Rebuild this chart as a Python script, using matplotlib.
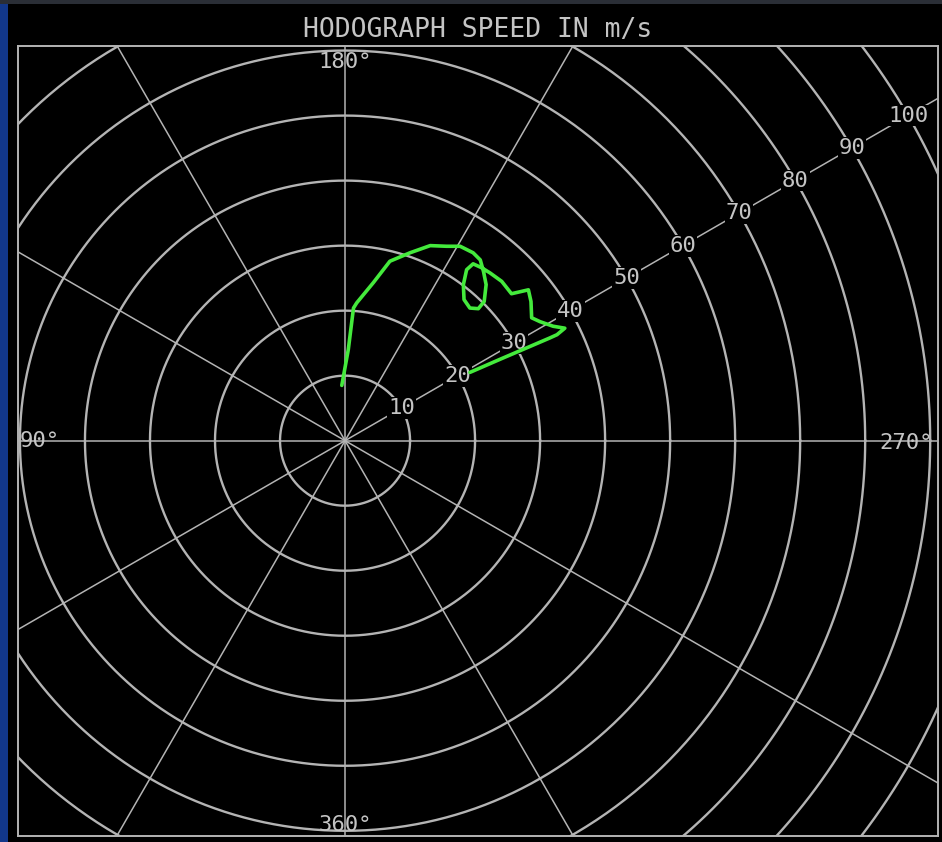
import numpy as np
import matplotlib
matplotlib.use("Agg")
import matplotlib.pyplot as plt
from matplotlib.patches import Rectangle

# ---- data ----
title = "HODOGRAPH SPEED IN m/s"
ring_speeds = [10, 20, 30, 40, 50, 60, 70, 80, 90, 100]
speed_labels = ["10", "20", "30", "40", "50", "60", "70", "80", "90", "100"]
spoke_dirs = [0, 30, 60, 90, 120, 150, 180, 210, 240, 270, 300, 330]
label_ray_dir = 240
dir_labels = ["180°", "90°", "270°", "360°"]
dir_label_pos = [(0, 58.3), (-46.9, 0), (86.3, -0.3), (0, -59.1)]

# hodograph wind components (m/s): u (east), v (north)
hodo_u = [-0.5, 0.5, 1.3, 1.8, 4.35, 6.9, 10.0, 13.1, 15.6, 17.7, 19.7, 20.8,
          21.3, 21.7, 21.4, 20.5, 19.2, 18.3, 18.2, 18.7, 19.7, 21.0, 22.3,
          24.1, 25.6, 26.9, 28.2, 28.6, 28.7, 30.0, 32.0, 33.8, 32.6, 31.5,
          28.0, 23.8, 19.2]
hodo_v = [8.5, 14.0, 20.4, 21.2, 24.3, 27.6, 28.9, 30.0, 29.9, 29.9, 28.9, 27.8,
          26.0, 24.0, 21.4, 20.3, 20.4, 21.7, 24.0, 26.3, 27.2, 26.6, 25.8,
          24.5, 22.6, 22.9, 23.2, 21.4, 18.9, 18.3, 17.6, 17.3, 16.3, 15.8,
          14.3, 12.5, 10.5]

GRID = "#b4b4b4"
TEXT = "#c4c4c4"
GREEN = "#44ea3c"
MONO = "DejaVu Sans Mono"

W, H = 942, 842
fig = plt.figure(figsize=(W / 100, H / 100), dpi=100, facecolor="black")

# window decorations
fig.patches.append(Rectangle((0, 0), 8 / W, 1, transform=fig.transFigure,
                             facecolor="#12378a", edgecolor="none", zorder=0))
fig.patches.append(Rectangle((0, 1 - 4 / H), 1, 4 / H, transform=fig.transFigure,
                             facecolor="#2a2e36", edgecolor="none", zorder=0))

ax = fig.add_axes([18 / W, 6 / H, 920 / W, 790 / H])
ax.set_facecolor("black")
ax.set_xlim(-50.3, 91.2)
ax.set_ylim(-60.8, 60.7)
ax.set_xticks([])
ax.set_yticks([])
for s in ax.spines.values():
    s.set_color(GRID)
    s.set_linewidth(1.4)

# rings
t = np.linspace(0, 2 * np.pi, 721)
for r in ring_speeds:
    ax.plot(r * np.cos(t), r * np.sin(t), color=GRID, lw=1.7, zorder=1)

# spokes (meteorological direction: wind from d plotted at (-sin d, -cos d))
for d in spoke_dirs:
    rad = np.deg2rad(d)
    ax.plot([0, -200 * np.sin(rad)], [0, -200 * np.cos(rad)],
            color=GRID, lw=1.1, zorder=1)

# speed labels along the 240 degree ray
rad = np.deg2rad(label_ray_dir)
for r, lab in zip(ring_speeds, speed_labels):
    ax.text(-r * np.sin(rad), -r * np.cos(rad), lab, color=TEXT,
            fontsize=16, family=MONO, ha="center", va="center", zorder=3,
            bbox=dict(facecolor="black", edgecolor="none", pad=0.6),
            clip_on=True)

# direction labels
for lab, (x, y) in zip(dir_labels, dir_label_pos):
    ax.text(x, y, lab, color=TEXT, fontsize=16, family=MONO,
            ha="center", va="center", zorder=3)

# hodograph trace
ax.plot(hodo_u, hodo_v, color=GREEN, lw=2.6, zorder=4,
        solid_joinstyle="round", solid_capstyle="round")

fig.text(478 / W, 1 - 30 / H, title, color=TEXT, fontsize=19, family=MONO,
         ha="center", va="center")

fig.savefig("out.png", dpi=100, facecolor="black")
